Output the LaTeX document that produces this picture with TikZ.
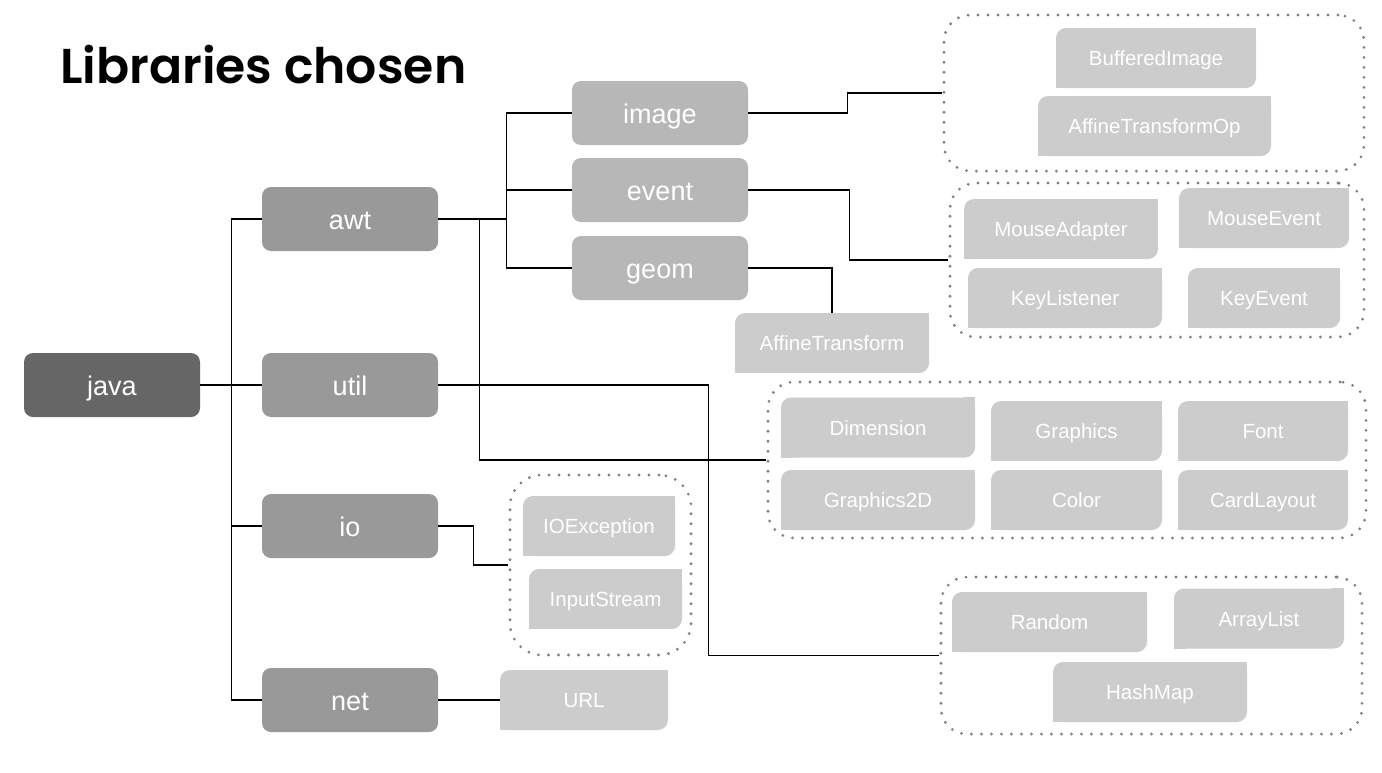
\documentclass[tikz,border=0pt]{standalone}
\usepackage{fontspec}
\setmainfont{Liberation Sans}
\newfontfamily\titlefont{Poppins SemiBold}
\usetikzlibrary{calc}
\definecolor{cjava}{HTML}{666666}
\definecolor{clvone}{HTML}{999999}
\definecolor{clvtwo}{HTML}{B7B7B7}
\definecolor{cleaf}{HTML}{CCCCCC}
\definecolor{cdot}{HTML}{808080}
\tikzset{
  pkg/.style={rounded corners=9, minimum width=176, minimum height=64, inner sep=0,
    text=white, font=\fontsize{27}{30}\selectfont, text height=20, text depth=0},
  leafbox/.style={fill=cleaf, rounded corners=10, minimum height=60, inner sep=0,
    text=white, font=\fontsize{20.5}{24}\selectfont, text height=15, text depth=0},
  grp/.style={draw=cdot, line width=3.1, dash pattern=on 0pt off 10pt, line cap=round,
    rounded corners=26},
  conn/.style={line width=1.4, draw=black},
}
\newcommand\leaf[4]{%
  \node[leafbox, minimum width=#3] (#1) at (#2) {#4};
  \fill[cleaf] (#1.north east) rectangle ++(-12,12);
  \fill[cleaf] (#1.south west) rectangle ++(12,-12);
}
\begin{document}
\begin{tikzpicture}[x=1pt,y=-1pt]
\useasboundingbox (0,0) rectangle (1382,772);
% title
\node[anchor=base west, inner sep=0] (title) at (60,83)
  {\resizebox{406pt}{!}{\titlefont Libraries chosen}};
% package nodes
\node[pkg, fill=cjava] (java) at (112,385) {java};
\node[pkg, fill=clvone] (awt) at (350,219) {awt};
\node[pkg, fill=clvone] (util) at (350,385) {util};
\node[pkg, fill=clvone] (io) at (350,526) {io};
\node[pkg, fill=clvone] (net) at (350,700) {net};
\node[pkg, fill=clvtwo] (image) at (660,113) {image};
\node[pkg, fill=clvtwo] (event) at (660,190) {event};
\node[pkg, fill=clvtwo] (geom) at (660,268) {geom};
% group containers
\node[grp, minimum width=420, minimum height=156] (c1) at (1154,93) {};
\node[grp, minimum width=414, minimum height=154] (c2) at (1157,260) {};
\node[grp, minimum width=598, minimum height=156] (c3) at (1067,460) {};
\node[grp, minimum width=181, minimum height=180, rounded corners=32] (c4) at (600.5,565) {};
\node[grp, minimum width=421, minimum height=157] (c5) at (1151.5,655.5) {};
% leaves
\leaf{bimg}{1156,58}{200}{BufferedImage}
\leaf{atop}{1154.5,126}{233}{AffineTransformOp}
\leaf{madp}{1061,229}{194}{MouseAdapter}
\leaf{mev}{1264,218}{170}{MouseEvent}
\leaf{klis}{1065,298}{194}{KeyListener}
\leaf{kev}{1264,298}{152}{KeyEvent}
\leaf{aft}{832,343}{194}{AffineTransform}
\leaf{dim}{878,427.5}{194}{Dimension}
\leaf{gfx}{1076.5,431}{171}{Graphics}
\leaf{font}{1263,431}{170}{Font}
\leaf{gtwo}{878,500}{194}{Graphics2D}
\leaf{col}{1076.5,500}{171}{Color}
\leaf{card}{1263,500}{170}{CardLayout}
\leaf{ioex}{599,526}{152}{IOException}
\leaf{inst}{605.5,599}{153}{InputStream}
\leaf{rand}{1049.5,622}{195}{Random}
\leaf{alist}{1259,618.5}{170}{ArrayList}
\leaf{hmap}{1150,692}{194}{HashMap}
\leaf{url}{584,700}{168}{URL}
% connectors
\draw[conn] (java.east) -- (util.west);
\draw[conn] (java.east) -- ++(31,0) |- (awt.west);
\draw[conn] (java.east) -- ++(31,0) |- (io.west);
\draw[conn] (java.east) -- ++(31,0) |- (net.west);
\draw[conn] (awt.east) -- ++(68,0) |- (image.west);
\draw[conn] (awt.east) -- ++(68,0) |- (event.west);
\draw[conn] (awt.east) -- ++(68,0) |- (geom.west);
\draw[conn] (awt.east) -- ++(41,0) |- (c3.west);
\draw[conn] (util.east) -- ++(270,0) |- (c5.west);
\draw[conn] (io.east) -- ++(35,0) |- (c4.west);
\draw[conn] (net.east) -- (url.west);
\draw[conn] (image.east) -- ++(99,0) |- (c1.west);
\draw[conn] (event.east) -- ++(101,0) |- (c2.west);
\draw[conn] (geom.east) -| (aft.north);
\end{tikzpicture}
\end{document}
